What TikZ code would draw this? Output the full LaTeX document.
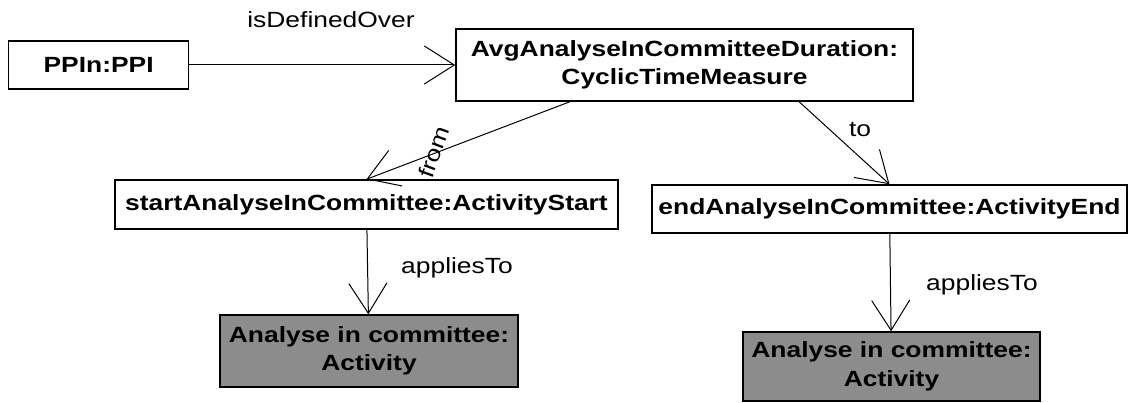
\documentclass[tikz,border=0pt]{standalone}
\usepackage{fontspec}
\setmainfont{Liberation Sans}[FakeStretch=1.2]
\usetikzlibrary{arrows.meta,calc}

\definecolor{boxgrey}{RGB}{140,140,140}
\tikzset{
  obj/.style={draw, line width=1.5pt, align=center, inner sep=2pt,
    font=\fontsize{22}{28.5}\selectfont\bfseries},
  act/.style={obj, fill=boxgrey},
  rel/.style={-{Straight Barb[length=30pt,width=38pt]}, line width=1pt},
  lbl/.style={inner sep=0pt, font=\fontsize{22}{28}\selectfont}
}

\begin{document}
\begin{tikzpicture}[x=1pt,y=-1pt]
  \useasboundingbox (0,0) rectangle (1129,403);
  \node[obj, minimum width=180pt, minimum height=48pt] (ppi) at (98.6,65) {PPIn:PPI};
  \node[obj, minimum width=457pt, minimum height=72pt] (avg) at (684.5,65) {AvgAnalyseInCommitteeDuration:\\CyclicTimeMeasure};
  \node[obj, minimum width=503pt, minimum height=49pt] (start) at (366.5,204.5) {startAnalyseInCommittee:ActivityStart};
  \node[obj, minimum width=475pt, minimum height=48pt] (end) at (889.5,209) {endAnalyseInCommittee:ActivityEnd};
  \node[act, minimum width=298pt, minimum height=72pt] (act1) at (369,351) {Analyse in committee:\\Activity};
  \node[act, minimum width=297pt, minimum height=69pt] (act2) at (891.5,366.5) {Analyse in committee:\\Activity};
  \node[lbl] (l1) at (331,20) {isDefinedOver};
  \node[lbl, rotate=70] (l2) at (434,152) {from};
  \node[lbl] (l3) at (860,129) {to};
  \node[lbl] (l4) at (457,268) {appliesTo};
  \node[lbl] (l5) at (982,285) {appliesTo};
  \coordinate (avgfrom) at ($(avg.south west)!0.25!(avg.south east)$);
  \coordinate (avgto) at ($(avg.south west)!0.75!(avg.south east)$);
  \draw[rel] (ppi)--(avg);
  \draw[rel] (avgfrom)--(start.north);
  \draw[rel] (avgto)--(end.north);
  \draw[rel] (start)--(act1);
  \draw[rel] (end)--(act2);
\end{tikzpicture}
\end{document}
